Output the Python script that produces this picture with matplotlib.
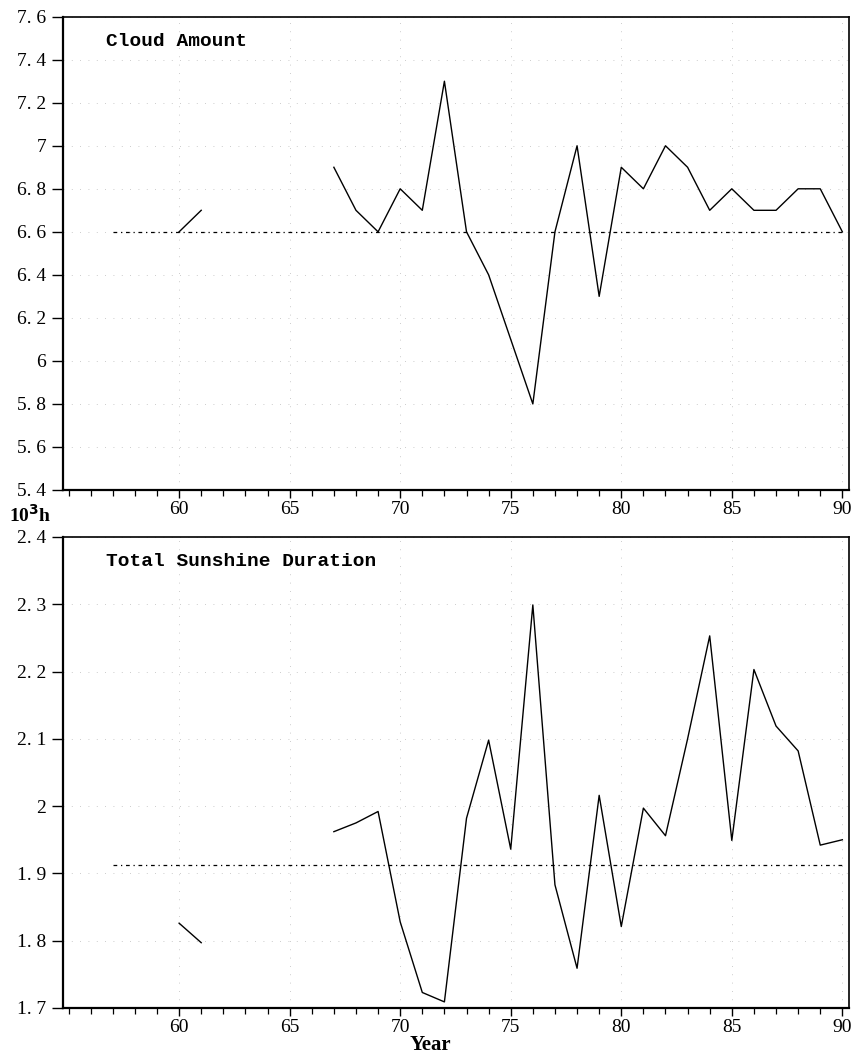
import numpy as np
import matplotlib
matplotlib.use("Agg")
import matplotlib.pyplot as plt
from matplotlib.ticker import MultipleLocator, FixedLocator

# Data (years 1960-1990, gaps 1962-1966)
years = list(range(60, 91))
cloud = [6.6, 6.7, np.nan, np.nan, np.nan, np.nan, np.nan,
         6.9, 6.7, 6.6, 6.8, 6.7, 7.3, 6.6, 6.4, 6.1, 5.8, 6.6, 7.0, 6.3,
         6.9, 6.8, 7.0, 6.9, 6.7, 6.8, 6.7, 6.7, 6.8, 6.8, 6.6]
sunshine = [1.826, 1.797, np.nan, np.nan, np.nan, np.nan, np.nan,
            1.962, 1.975, 1.992, 1.828, 1.723, 1.709, 1.982, 2.098, 1.936,
            2.299, 1.883, 1.759, 2.016, 1.821, 1.997, 1.956, 2.10, 2.253,
            1.949, 2.203, 2.119, 2.082, 1.942, 1.950]
cloud_mean = 6.6
sunshine_mean = 1.913
mean_start, mean_end = 57, 90

cloud_ticks = [5.4, 5.6, 5.8, 6.0, 6.2, 6.4, 6.6, 6.8, 7.0, 7.2, 7.4, 7.6]
sun_ticks = [1.7, 1.8, 1.9, 2.0, 2.1, 2.2, 2.3, 2.4]
x_ticks = [60, 65, 70, 75, 80, 85, 90]

def fmt(v):
    s = f"{v:.1f}"
    if s.endswith(".0"):
        return s[:-2]
    return s.replace(".", ". ")

tick_font = dict(family="Liberation Serif", size=14)

fig = plt.figure(figsize=(8.53, 10.56), dpi=100)
ax1 = fig.add_axes([0.0739, 0.536, 0.9953 - 0.0739, 0.9842 - 0.536])
ax2 = fig.add_axes([0.0739, 0.0455, 0.9953 - 0.0739, 0.4915 - 0.0455])

panels = [
    (ax1, cloud, cloud_mean, cloud_ticks, "Cloud Amount"),
    (ax2, sunshine, sunshine_mean, sun_ticks, "Total Sunshine Duration"),
]

for ax, vals, mean, yt, title in panels:
    ax.plot(years, vals, color="black", lw=1.0)
    ax.plot([mean_start, mean_end], [mean, mean], color="black", lw=0.9,
            linestyle=(0, (3, 3, 1, 3)))
    ax.set_xlim(54.75, 90.3)
    ax.set_ylim(yt[0], yt[-1])
    ax.yaxis.set_major_locator(FixedLocator(yt))
    ax.set_yticklabels([fmt(v) for v in yt], **tick_font)
    ax.xaxis.set_major_locator(FixedLocator(x_ticks))
    ax.xaxis.set_minor_locator(MultipleLocator(1))
    ax.set_xticklabels([str(v) for v in x_ticks], **tick_font)
    ax.tick_params(axis="y", direction="out", length=8, width=1.0, pad=4)
    ax.tick_params(axis="x", which="major", direction="out", length=6, width=1.0, pad=2)
    ax.tick_params(axis="x", which="minor", direction="out", length=4, width=0.9)
    ax.grid(True, color="#bbbbbb", lw=0.6, linestyle=(0, (1, 9)))
    for side in ["left", "bottom"]:
        ax.spines[side].set_linewidth(1.6)
    for side in ["top", "right"]:
        ax.spines[side].set_linewidth(1.2)
    ax.text(0.055, 0.965, title, transform=ax.transAxes, ha="left", va="top",
            family="Liberation Mono", fontweight="bold", fontsize=14)

fig.text(0.010, 0.512, "10$^{\\mathbf{3}}$h", ha="left", va="center",
         family="Liberation Serif", fontweight="bold", fontsize=14)
fig.text(0.505, 0.001, "Year", ha="center", va="bottom",
         family="Liberation Serif", fontweight="bold", fontsize=15)

fig.savefig("out.png", dpi=100)
